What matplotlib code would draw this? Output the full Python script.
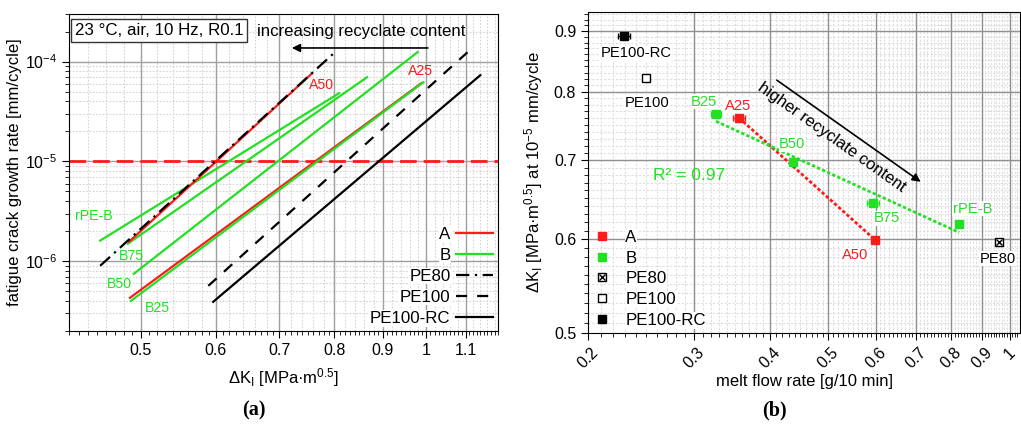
import numpy as np
import matplotlib
matplotlib.use("Agg")
import matplotlib.pyplot as plt
from matplotlib.ticker import FixedLocator, FuncFormatter, NullFormatter, LogLocator

plt.rcParams['font.family'] = ['Liberation Sans', 'DejaVu Sans']
plt.rcParams['mathtext.fontset'] = 'custom'
plt.rcParams['mathtext.rm'] = 'Liberation Sans'
plt.rcParams['mathtext.it'] = 'Liberation Sans:italic'

RED = '#ff1a1a'
GREEN = '#22e022'

# ---- (a) fatigue crack growth lines: end points [dK, da/dN]
dk_A25 = [0.487, 0.988];   da_A25 = [4.3e-7, 6.08e-5]
dk_A50 = [0.486, 0.756];   da_A50 = [1.57e-6, 7.48e-5]
dk_B25 = [0.488, 0.993];   da_B25 = [4.0e-7, 6.22e-5]
dk_B50 = [0.4915, 0.979];  da_B50 = [7.48e-7, 1.245e-4]
dk_B75 = [0.4845, 0.866];  da_B75 = [1.50e-6, 6.98e-5]
dk_rPEB = [0.453, 0.809];  da_rPEB = [1.61e-6, 4.82e-5]
dk_PE80 = [0.453, 0.797];  da_PE80 = [9.0e-7, 1.19e-4]
dk_PE100 = [0.589, 1.118]; da_PE100 = [5.67e-7, 1.37e-4]
dk_RC = [0.596, 1.140];    da_RC = [3.92e-7, 7.31e-5]
da_ref = 1e-5

labels_a = ['A50', 'A25', 'rPE-B', 'B75', 'B50', 'B25']
labels_a_x = [0.775, 0.986, 0.4465, 0.489, 0.475, 0.521]
labels_a_y = [5.8e-5, 8.0e-5, 2.87e-6, 1.13e-6, 5.94e-7, 3.41e-7]
labels_a_c = [RED, RED, GREEN, GREEN, GREEN, GREEN]

# ---- (b) dK at 1e-5 mm/cycle vs melt flow rate
mfr_A = [0.356, 0.599];  dk10_A = [0.760, 0.599];  err_A = [0.008, 0.007]
mfr_B = [0.326, 0.438, 0.593, 0.824];  dk10_B = [0.766, 0.697, 0.644, 0.618]
err_B = [0.006, 0.003, 0.014, 0.003]
mfr_PE80 = [0.96];   dk10_PE80 = [0.597]
mfr_PE100 = [0.2496]; dk10_PE100 = [0.821]
mfr_RC = [0.2296];   dk10_RC = [0.891];  err_RC = [0.0053]

labels_b = ['PE100-RC', 'PE100', 'B25', 'A25', 'B50', 'B75', 'rPE-B', 'A50', 'PE80']
labels_b_x = [0.240, 0.2505, 0.3115, 0.354, 0.436, 0.625, 0.868, 0.555, 0.956]
labels_b_y = [0.862, 0.783, 0.784, 0.778, 0.722, 0.625, 0.637, 0.582, 0.578]
labels_b_c = ['black', 'black', GREEN, RED, GREEN, GREEN, GREEN, RED, 'black']

fig = plt.figure(figsize=(10.21, 4.25), dpi=100)
ax1 = fig.add_axes([69/1021, 94/425, 429/1021, 317/425])
ax2 = fig.add_axes([588/1021, 92/425, 432/1021, 321/425])

# ================= (a)
ax1.set_xscale('log'); ax1.set_yscale('log')
ax1.set_xlim(0.42, 1.19); ax1.set_ylim(2e-7, 3e-4)
for v in np.arange(0.42, 1.19, 0.02):
    ax1.axvline(v, color='#d4d4d4', lw=0.8, ls=(0, (1.5, 1.5)), zorder=0)
for dec in [1e-7, 1e-6, 1e-5, 1e-4]:
    for m in range(2, 10):
        ax1.axhline(m*dec, color='#d4d4d4', lw=0.8, ls=(0, (1.5, 1.5)), zorder=0)
for v in [0.5, 0.6, 0.7, 0.8, 0.9, 1.0, 1.1]:
    ax1.axvline(v, color='#a0a0a0', lw=1, zorder=0.5)
for v in [1e-6, 1e-5, 1e-4]:
    ax1.axhline(v, color='#a0a0a0', lw=1, zorder=0.5)

ax1.axhline(da_ref, color=RED, lw=2, dashes=(6, 2.5), zorder=1)
lw = 1.6
ax1.plot(dk_rPEB, da_rPEB, color=GREEN, lw=lw)
ax1.plot(dk_B75, da_B75, color=GREEN, lw=lw)
ax1.plot(dk_B50, da_B50, color=GREEN, lw=lw)
ax1.plot(dk_A25, da_A25, color=RED, lw=lw)
ax1.plot(dk_B25, da_B25, color=GREEN, lw=lw)
ax1.plot(dk_A50, da_A50, color=RED, lw=lw)
ax1.plot(dk_PE80, da_PE80, color='black', lw=lw, dashes=(6, 2.5, 1, 2.5))
ax1.plot(dk_PE100, da_PE100, color='black', lw=lw, dashes=(5, 4.5))
ax1.plot(dk_RC, da_RC, color='black', lw=lw)

for t, x, y, c in zip(labels_a, labels_a_x, labels_a_y, labels_a_c):
    ax1.text(x, y, t, color=c, fontsize=10.2, ha='center', va='center')

h = [plt.Line2D([], [], color=RED, lw=lw),
     plt.Line2D([], [], color=GREEN, lw=lw),
     plt.Line2D([], [], color='black', lw=lw, dashes=(6, 2.5, 1, 2.5)),
     plt.Line2D([], [], color='black', lw=lw, dashes=(5, 4.5)),
     plt.Line2D([], [], color='black', lw=lw)]
leg = ax1.legend(h, ['A', 'B', 'PE80', 'PE100', 'PE100-RC'], loc='lower right',
                 markerfirst=False, frameon=False, fontsize=12.2, handlelength=2.2,
                 labelspacing=0.36, handletextpad=0.3, borderaxespad=0.1, borderpad=0.2)
for t in leg.get_texts():
    t.set_bbox(dict(facecolor='white', edgecolor='none', pad=0.5))

ax1.text(0.21, 0.948, '23 °C, air, 10 Hz, R0.1', transform=ax1.transAxes, fontsize=12.2,
         ha='center', va='center',
         bbox=dict(facecolor='white', edgecolor='#333333', lw=1, boxstyle='square,pad=0.22'))
ax1.text(0.682, 0.946, 'increasing recyclate content', transform=ax1.transAxes,
         fontsize=12.1, ha='center', va='center')
ax1.annotate('', xy=(0.7166, 1.37e-4), xytext=(1.0105, 1.37e-4),
             arrowprops=dict(arrowstyle='-|>', color='black', lw=1.2, mutation_scale=12))

major_a = [0.5, 0.6, 0.7, 0.8, 0.9, 1.0, 1.1]
ax1.xaxis.set_major_locator(FixedLocator(major_a))
ax1.xaxis.set_major_formatter(FuncFormatter(lambda v, p: '%g' % v))
ax1.xaxis.set_minor_locator(FixedLocator(np.arange(0.42, 1.195, 0.01)))
ax1.xaxis.set_minor_formatter(NullFormatter())
ax1.yaxis.set_major_locator(FixedLocator([1e-6, 1e-5, 1e-4]))
ax1.yaxis.set_minor_locator(LogLocator(base=10, subs=np.arange(2, 10)))
ax1.yaxis.set_minor_formatter(NullFormatter())
ax1.tick_params(which='both', direction='out', labelsize=11.5)
ax1.tick_params(which='major', length=5)
ax1.tick_params(which='minor', length=3)
ax1.set_xlabel('ΔK$_\\mathrm{I}$ [MPa·m$^{0.5}$]', fontsize=12, labelpad=6)
ax1.set_ylabel('fatigue crack growth rate [mm/cycle]', fontsize=12, labelpad=2)

# ================= (b)
ax2.set_xscale('log'); ax2.set_yscale('log')
ax2.set_xlim(0.2, 1.04); ax2.set_ylim(0.5, 0.934)
for v in np.arange(0.21, 1.04, 0.01):
    ax2.axvline(v, color='#dedede', lw=0.8, ls=(0, (2, 1.5)), zorder=0)
for v in np.arange(0.51, 0.934, 0.01):
    ax2.axhline(v, color='#dedede', lw=0.8, ls=(0, (2, 1.5)), zorder=0)
for v in [0.3, 0.4, 0.5, 0.6, 0.7, 0.8, 0.9, 1.0]:
    ax2.axvline(v, color='#909090', lw=1, zorder=0.5)
for v in [0.6, 0.7, 0.8, 0.9]:
    ax2.axhline(v, color='#909090', lw=1, zorder=0.5)

# log-log fits
fa = np.polyfit(np.log10(mfr_A), np.log10(dk10_A), 1)
xa = np.array([min(mfr_A), max(mfr_A)])
ax2.plot(xa, 10**np.polyval(fa, np.log10(xa)), color=RED, lw=2, ls=(0, (1.2, 0.8)), zorder=2)
fb = np.polyfit(np.log10(mfr_B), np.log10(dk10_B), 1)
xb = np.array([min(mfr_B), max(mfr_B)])
ax2.plot(xb, 10**np.polyval(fb, np.log10(xb)), color=GREEN, lw=2, ls=(0, (1.2, 0.8)), zorder=2)

ms = 6
ax2.errorbar(mfr_A, dk10_A, xerr=err_A, fmt='s', color=RED, ms=ms, capsize=2.5,
             elinewidth=1, zorder=3)
ax2.errorbar(mfr_B, dk10_B, xerr=err_B, fmt='s', color=GREEN, ms=ms, capsize=2.5,
             elinewidth=1, zorder=3)
ax2.errorbar(mfr_RC, dk10_RC, xerr=err_RC, fmt='s', color='black', ms=ms, capsize=2.5,
             elinewidth=1, zorder=3)
ax2.plot(mfr_PE100, dk10_PE100, 's', mfc='white', mec='black', ms=ms, mew=1, zorder=3)
ax2.plot(mfr_PE80, dk10_PE80, 's', mfc='white', mec='black', ms=ms, mew=1, zorder=3)
ax2.plot(mfr_PE80, dk10_PE80, 'x', color='black', ms=4, mew=1, zorder=4)

for t, x, y, c in zip(labels_b, labels_b_x, labels_b_y, labels_b_c):
    ax2.text(x, y, t, color=c, fontsize=10.6, ha='center', va='center',
             bbox=dict(facecolor='white', edgecolor='none', pad=0.3))
ax2.text(0.294, 0.680, 'R² = 0.97', color=GREEN, fontsize=12.5, ha='center', va='center')

ax2.annotate('', xy=(0.718, 0.669), xytext=(0.4076, 0.8205),
             arrowprops=dict(arrowstyle='-|>', color='black', lw=1.2, mutation_scale=12))
ax2.text(0.506, 0.7315, 'higher recyclate content', fontsize=12, rotation=-35.4,
         rotation_mode='anchor', ha='center', va='center')

hb = [plt.Line2D([], [], ls='', marker='s', color=RED, ms=ms),
      plt.Line2D([], [], ls='', marker='s', color=GREEN, ms=ms),
      (plt.Line2D([], [], ls='', marker='s', mfc='white', mec='black', ms=ms),
       plt.Line2D([], [], ls='', marker='x', color='black', ms=4)),
      plt.Line2D([], [], ls='', marker='s', mfc='white', mec='black', ms=ms),
      plt.Line2D([], [], ls='', marker='s', color='black', ms=ms)]
leg2 = ax2.legend(hb, ['A', 'B', 'PE80', 'PE100', 'PE100-RC'], loc='lower left',
                  frameon=False, fontsize=12.2, handlelength=1.0, labelspacing=0.34,
                  handletextpad=0.9, borderaxespad=0.1, borderpad=0.2)
for t in leg2.get_texts():
    t.set_bbox(dict(facecolor='white', edgecolor='none', pad=0.5))

major_bx = [0.2, 0.3, 0.4, 0.5, 0.6, 0.7, 0.8, 0.9, 1.0]
ax2.xaxis.set_major_locator(FixedLocator(major_bx))
ax2.xaxis.set_major_formatter(FuncFormatter(lambda v, p: '%g' % v))
ax2.xaxis.set_minor_locator(FixedLocator(np.arange(0.21, 1.04, 0.01)))
ax2.xaxis.set_minor_formatter(NullFormatter())
major_by = [0.5, 0.6, 0.7, 0.8, 0.9]
ax2.yaxis.set_major_locator(FixedLocator(major_by))
ax2.yaxis.set_major_formatter(FuncFormatter(lambda v, p: '%g' % v))
ax2.yaxis.set_minor_locator(FixedLocator(np.arange(0.51, 0.934, 0.01)))
ax2.yaxis.set_minor_formatter(NullFormatter())
ax2.tick_params(which='both', direction='out', labelsize=11.5)
ax2.tick_params(which='major', length=5)
ax2.tick_params(which='minor', length=3)
ax2.tick_params(axis='x', which='major', labelrotation=45)
ax2.set_xlabel('melt flow rate [g/10 min]', fontsize=12, labelpad=2)
ax2.set_ylabel('ΔK$_\\mathrm{I}$ [MPa·m$^{0.5}$] at 10$^{-5}$ mm/cycle', fontsize=12,
               labelpad=6)

fig.text(254/1021, 1 - 410/425, '(a)', fontsize=14.5, fontweight='bold',
         family='Liberation Serif', ha='center', va='center')
fig.text(774/1021, 1 - 410/425, '(b)', fontsize=14.5, fontweight='bold',
         family='Liberation Serif', ha='center', va='center')

fig.savefig('out.png', dpi=100)
